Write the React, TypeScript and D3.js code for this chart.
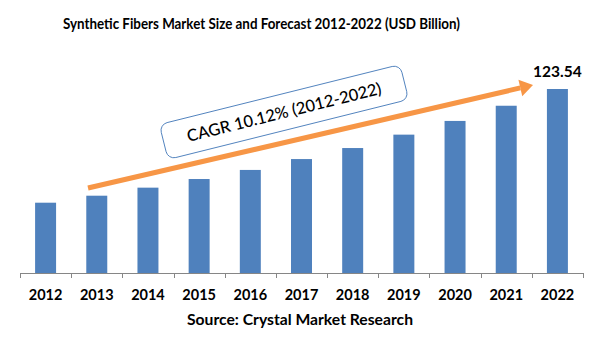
import React from "react";
import * as d3 from "d3";

const years = ["2012", "2013", "2014", "2015", "2016", "2017", "2018", "2019", "2020", "2021", "2022"];
const values = [47.2, 51.9, 57.3, 63.1, 69.2, 76.5, 83.9, 92.9, 102.1, 112.3, 123.54];
const title = "Synthetic Fibers Market Size and Forecast 2012-2022 (USD Billion)";
const source = "Source: Crystal Market Research";
const cagrLabel = "CAGR 10.12% (2012-2022)";
const lastLabel = "123.54";

const W = 601;
const H = 361;
const FONT = "Lato, 'Open Sans', sans-serif";

export default function App() {
  const x = d3
    .scaleBand<string>()
    .domain(years)
    .range([20, 583])
    .paddingInner(0.59)
    .paddingOuter(0.295);
  const y = d3.scaleLinear().domain([0, 123.54]).range([273, 89]);
  const step = x.step();
  const ticks = d3.range(years.length + 1).map((i) => 20 + i * step);

  const last = years[years.length - 1];
  const arrowStart: [number, number] = [88, 188];
  const arrowEnd: [number, number] = [533, 85];
  const ang = Math.atan2(arrowEnd[1] - arrowStart[1], arrowEnd[0] - arrowStart[0]);
  const headLen = 13;
  const headW = 8.5;
  const bx = arrowEnd[0] - headLen * Math.cos(ang);
  const by = arrowEnd[1] - headLen * Math.sin(ang);
  const px = -Math.sin(ang);
  const py = Math.cos(ang);
  const head = [
    [arrowEnd[0], arrowEnd[1]],
    [bx + px * headW, by + py * headW],
    [bx - px * headW, by - py * headW],
  ];

  return (
    <svg width={W} height={H} style={{ position: "absolute", left: 0, top: 0, background: "#fff" }}>
      <rect x={0} y={0} width={W} height={H} fill="#fff" />
      <text
        x={261.5}
        y={29}
        textAnchor="middle"
        fontFamily={FONT}
        fontWeight={700}
        fontSize={15}
        fill="#000"
        textLength={397}
        lengthAdjust="spacingAndGlyphs"
      >
        {title}
      </text>
      {years.map((yr, i) => (
        <rect
          key={yr}
          x={x(yr)!}
          y={y(values[i])}
          width={x.bandwidth()}
          height={y(0) - y(values[i])}
          fill="#4F81BD"
        />
      ))}
      <line x1={20} x2={583} y1={273.5} y2={273.5} stroke="#868686" strokeWidth={1} />
      {ticks.map((t, i) => (
        <line key={i} x1={Math.round(t) + 0.5} x2={Math.round(t) + 0.5} y1={273} y2={278} stroke="#868686" />
      ))}
      {years.map((yr) => (
        <text
          key={yr}
          x={x(yr)! + x.bandwidth() / 2}
          y={300}
          textAnchor="middle"
          fontFamily={FONT}
          fontWeight={700}
          fontSize={14.5}
          fill="#000"
        >
          {yr}
        </text>
      ))}
      <text
        x={300}
        y={325}
        textAnchor="middle"
        fontFamily={FONT}
        fontWeight={700}
        fontSize={15}
        fill="#000"
        textLength={226}
        lengthAdjust="spacingAndGlyphs"
      >
        {source}
      </text>
      <text
        x={x(last)! + x.bandwidth() / 2}
        y={77}
        textAnchor="middle"
        fontFamily={FONT}
        fontWeight={700}
        fontSize={15.5}
        fill="#000"
      >
        {lastLabel}
      </text>
      <line
        x1={arrowStart[0]}
        y1={arrowStart[1]}
        x2={bx}
        y2={by}
        stroke="#F79646"
        strokeWidth={5}
      />
      <polygon points={head.map((p) => p.join(",")).join(" ")} fill="#F79646" />
      <g transform="translate(284,112) rotate(-14)">
        <rect x={-124} y={-18} width={248} height={36} rx={8} ry={8} fill="#fff" stroke="#4F81BD" strokeWidth={0.9} />
        <text x={0} y={6} textAnchor="middle" fontFamily={FONT} fontWeight={500} fontSize={16.5} fill="#000">
          {cagrLabel}
        </text>
      </g>
    </svg>
  );
}
